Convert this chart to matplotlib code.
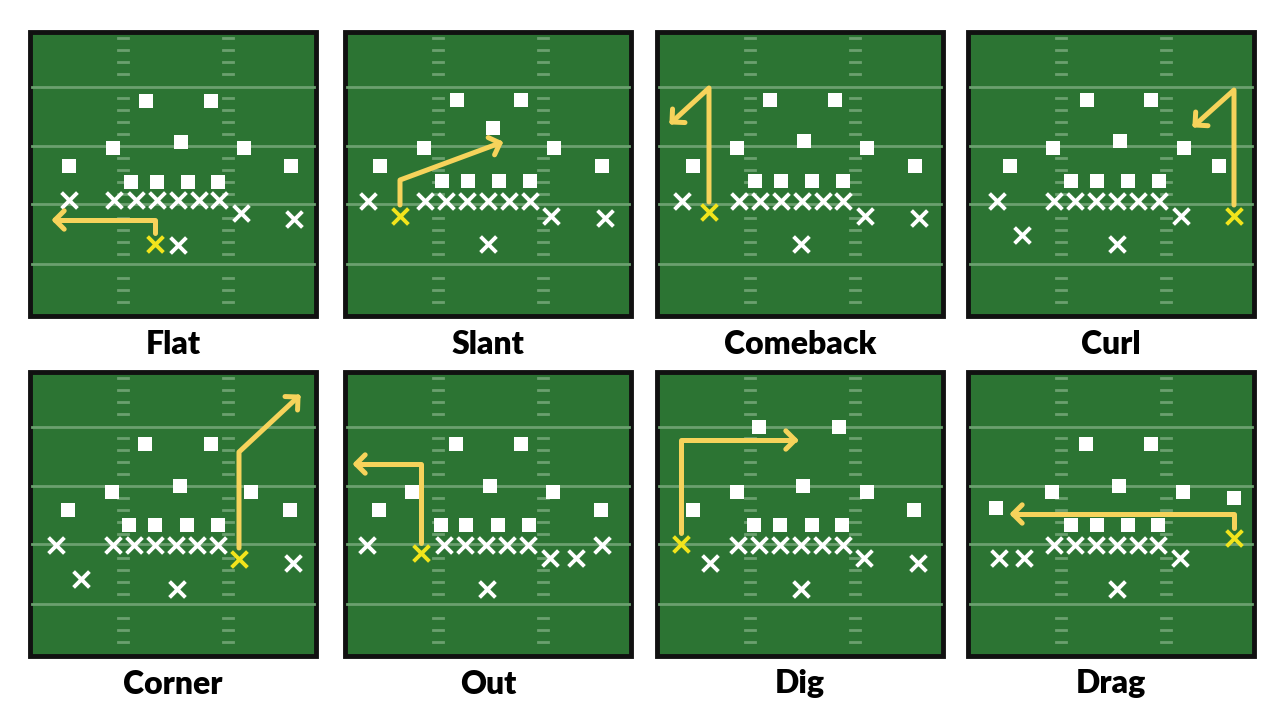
import numpy as np
import matplotlib
matplotlib.use("Agg")
import matplotlib.pyplot as plt
from matplotlib.patches import Rectangle

titles = ["Flat", "Slant", "Comeback", "Curl", "Corner", "Out", "Dig", "Drag"]
origins = [(30, 32), (345, 32), (657, 32), (968, 32),
           (30, 372), (345, 372), (657, 372), (968, 372)]
defense = [
    [(146,101),(211,101),(113,148),(181,142),(244,148),(69,166),(291,166),(131,182),(157,182),(188,182),(218,182)],
    [(457,100),(521,100),(424,148),(493,128),(554,148),(380,166),(602,166),(442,181),(468,181),(499,181),(530,181)],
    [(770,100),(835,100),(737,148),(804,141),(867,148),(693,166),(915,166),(755,181),(781,181),(812,181),(843,181)],
    [(1087,100),(1151,100),(1053,148),(1120,141),(1184,148),(1010,166),(1219,166),(1071,181),(1097,181),(1128,181),(1159,181)],
    [(145,444),(211,444),(112,492),(180,486),(251,492),(68,510),(290,510),(129,525),(155,525),(187,525),(218,525)],
    [(456,444),(521,444),(412,492),(490,486),(553,492),(379,510),(601,510),(441,525),(466,525),(498,525),(529,525)],
    [(759,427),(839,427),(737,492),(803,486),(867,492),(693,510),(914,510),(754,525),(780,525),(812,525),(842,525)],
    [(1086,444),(1151,444),(1052,492),(1119,486),(1183,492),(996,508),(1234,498),(1071,525),(1097,525),(1128,525),(1158,525)],
]
offense = [
    [(69,200),(114,200),(136,200),(157,200),(178,200),(199,200),(219,200),(241,213),(294,219),(178,245)],
    [(368,201),(425,201),(446,201),(467,201),(488,201),(509,201),(530,201),(551,216),(605,218),(488,244)],
    [(682,201),(739,201),(760,201),(781,201),(802,201),(823,201),(843,201),(865,216),(919,218),(801,244)],
    [(997,201),(1054,201),(1075,201),(1096,201),(1117,201),(1138,201),(1159,201),(1181,216),(1022,235),(1117,244)],
    [(56,545),(113,545),(134,545),(155,545),(176,545),(197,545),(218,545),(81,579),(293,563),(177,589)],
    [(367,545),(444,545),(465,545),(486,545),(507,545),(528,545),(550,558),(576,558),(602,545),(487,589)],
    [(710,563),(738,545),(759,545),(780,545),(801,545),(822,545),(843,545),(864,558),(918,563),(801,589)],
    [(999,558),(1024,558),(1054,545),(1075,545),(1096,545),(1117,545),(1138,545),(1158,545),(1180,558),(1117,589)],
]
receiver = [(155,244),(400,216),(709,212),(1234,216),(239,559),(421,553),(681,544),(1234,538)]
routes = [
    [(155,233),(155,220),(55,220)],
    [(400,205),(400,180),(500,143)],
    [(709,202),(709,88),(672,122)],
    [(1234,205),(1234,90),(1195,125)],
    [(239,548),(239,452),(298,397)],
    [(421,543),(421,464),(356,464)],
    [(681,533),(681,440),(795,440)],
    [(1234,528),(1234,514),(1013,514)],
]

W, H = 286, 284
yard_lines = [55, 114, 172, 232]
hash_cols = [93, 198]

fig = plt.figure(figsize=(12.8, 7.2), dpi=100)
ax = fig.add_axes([0, 0, 1, 1])
ax.set_xlim(0, 1280); ax.set_ylim(720, 0); ax.axis("off")

GREEN = "#2c7433"; LINE = "#6ba06f"; ROUTE = "#f6d35b"; YX = "#f2e41c"

for i in range(8):
    ox, oy = origins[i]
    ax.add_patch(Rectangle((ox, oy), W, H, facecolor=GREEN, edgecolor="#111111", lw=3.5, zorder=1))
    for yl in yard_lines:
        ax.plot([ox+2, ox+W-2], [oy+yl, oy+yl], color=LINE, lw=2, zorder=2)
    for hc in hash_cols:
        for hy in np.arange(6, H-2, 12):
            if min(abs(hy-yl) for yl in yard_lines) < 5:
                continue
            ax.plot([ox+hc-5, ox+hc+5], [oy+hy, oy+hy], color=LINE, lw=2, zorder=2)
    dx, dy = zip(*defense[i])
    ax.scatter(dx, dy, marker="s", s=115, color="white", linewidths=0, zorder=4)
    px, py = zip(*offense[i])
    ax.scatter(px, py, marker="x", s=130, color="white", linewidths=2.8, zorder=4)
    ax.scatter([receiver[i][0]], [receiver[i][1]], marker="x", s=130, color=YX, linewidths=2.8, zorder=5)
    rx, ry = zip(*routes[i])
    ax.plot(rx, ry, color=ROUTE, lw=3.6, solid_capstyle="round", solid_joinstyle="round", zorder=5)
    ex, ey = routes[i][-1]; sx, sy = routes[i][-2]
    ang = np.arctan2(ey-sy, ex-sx)
    for a in (ang + np.pi*0.75, ang - np.pi*0.75):
        ax.plot([ex, ex+13*np.cos(a)], [ey, ey+13*np.sin(a)], color=ROUTE, lw=3.6,
                solid_capstyle="round", zorder=5)
    ax.text(ox + W/2, oy + H + 28, titles[i], ha="center", va="center",
            fontsize=23, fontweight="heavy", family=["Lato", "DejaVu Sans"], color="black")

fig.savefig("out.png", dpi=100, facecolor="white")
